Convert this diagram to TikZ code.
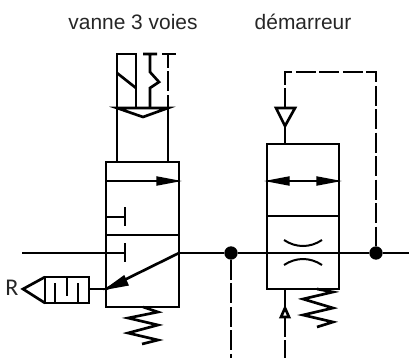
\documentclass[tikz,border=0pt]{standalone}
\usepackage{fontspec}
\setmainfont{Liberation Sans}
\newfontfamily\labelfont{Carlito}
\tikzset{
  line/.style={line width=2pt,line join=miter},
  pilot/.style={line width=2pt,dash pattern=on 15pt off 2.6pt},
  head/.style={line width=1pt,fill=black},
  dot/.style={circle,fill=black,inner sep=0pt,minimum size=10pt},
  caption/.style={inner sep=0pt,text=black!85,font=\fontsize{15.7pt}{18pt}\selectfont}
}
\begin{document}
\begin{tikzpicture}[x=0.75pt,y=-0.75pt]
  \useasboundingbox (0,0) rectangle (409,358);
  \node[caption] (vanne) at (133,22) {vanne 3 voies};
  \node[caption] (demarreur) at (303,22) {démarreur};
  \node[inner sep=0pt,text=black!85,font=\labelfont\fontsize{18pt}{20pt}\selectfont] (echap) at (12,288) {R};
  % line junctions
  \node[dot] (jleft) at (231,253) {};
  \node[dot] (jright) at (376,253) {};
  \coordinate (inlet) at (22,253);
  \coordinate (outlet) at (409,253);
  \coordinate (va) at (179,253);
  \coordinate (vb) at (106,289);
  \coordinate (sil) at (89,289);
  \coordinate (pilotl) at (231,358);
  \coordinate (pilotb) at (285,358);
  % 3 way valve
  \draw[line] (106,162) rectangle (179,307);
  \draw[line] (106,235) -- (179,235);
  \draw[line] (106,181) -- (179,181);
  \draw[head] (157,177) -- (178,181) -- (157,185) -- cycle;
  \draw[line] (106,217) -- (125,217) (125,207) -- (125,226);
  \draw[line] (inlet) -- (125,253) (125,243) -- (125,262);
  \draw[line] (va) -- (vb);
  \draw[head] (106,289) -- (124,276) -- (128,285) -- cycle;
  % controls
  \draw[line] (117,162) -- (117,108) (168,162) -- (168,108);
  \draw[line] (117,108) -- (168,108) -- (143,117) -- cycle;
  \draw[line] (117,108) -- (117,54) -- (136,54) -- (136,108);
  \draw[line] (117,73) -- (136,88);
  \draw[line] (143,54) -- (157,54) (150,54) -- (150,72) -- (159,82) -- (150,88) -- (150,108);
  \draw[line] (162,54) -- (176,54);
  \draw[pilot,dash phase=4.5pt] (168,54) -- (168,108);
  % silencer
  \draw[line] (sil) -- (vb);
  \draw[line] (45,277) rectangle (89,303);
  \draw[line] (45,277) -- (23,289) -- (45,303);
  \draw[line] (55,303) -- (55,283) (67,277) -- (67,296) (78,303) -- (78,283);
  \draw[line] (143,307) -- (158,312) -- (128,318) -- (158,325) -- (128,333) -- (158,340) -- (142,344);
  % starter
  \draw[line] (267,144) rectangle (339,289);
  \draw[line] (267,216) -- (339,216);
  \draw[line] (267,181) -- (339,181);
  \draw[head] (268,181) -- (289,177) -- (289,185) -- cycle;
  \draw[head] (338,181) -- (317,177) -- (317,185) -- cycle;
  \draw[line,line width=1.5pt] (284,240) .. controls (296,248) and (310,248) .. (322,240);
  \draw[line,line width=1.5pt] (284,265) .. controls (296,257) and (310,257) .. (322,265);
  \draw[line] (va) -- (jleft);
  \draw[line] (jleft) -- (267,253) -- (339,253) -- (jright);
  \draw[line] (jright) -- (outlet);
  \draw[pilot] (jleft) -- (pilotl);
  % top pilot
  \draw[line] (285,144) -- (285,126);
  \draw[line] (276,108) -- (295,108) -- (285,126) -- cycle;
  \draw[pilot] (285,108) -- (285,72) -- (376,72) -- (jright);
  % bottom pilot
  \draw[line] (285,289) -- (285,308);
  \draw[line] (285,308) -- (289,317) -- (281,317) -- cycle;
  \draw[pilot] (285,317) -- (pilotb);
  \draw[line] (317,289) -- (333,292) -- (303,299) -- (333,308) -- (303,315) -- (333,322) -- (317,327);
\end{tikzpicture}
\end{document}
